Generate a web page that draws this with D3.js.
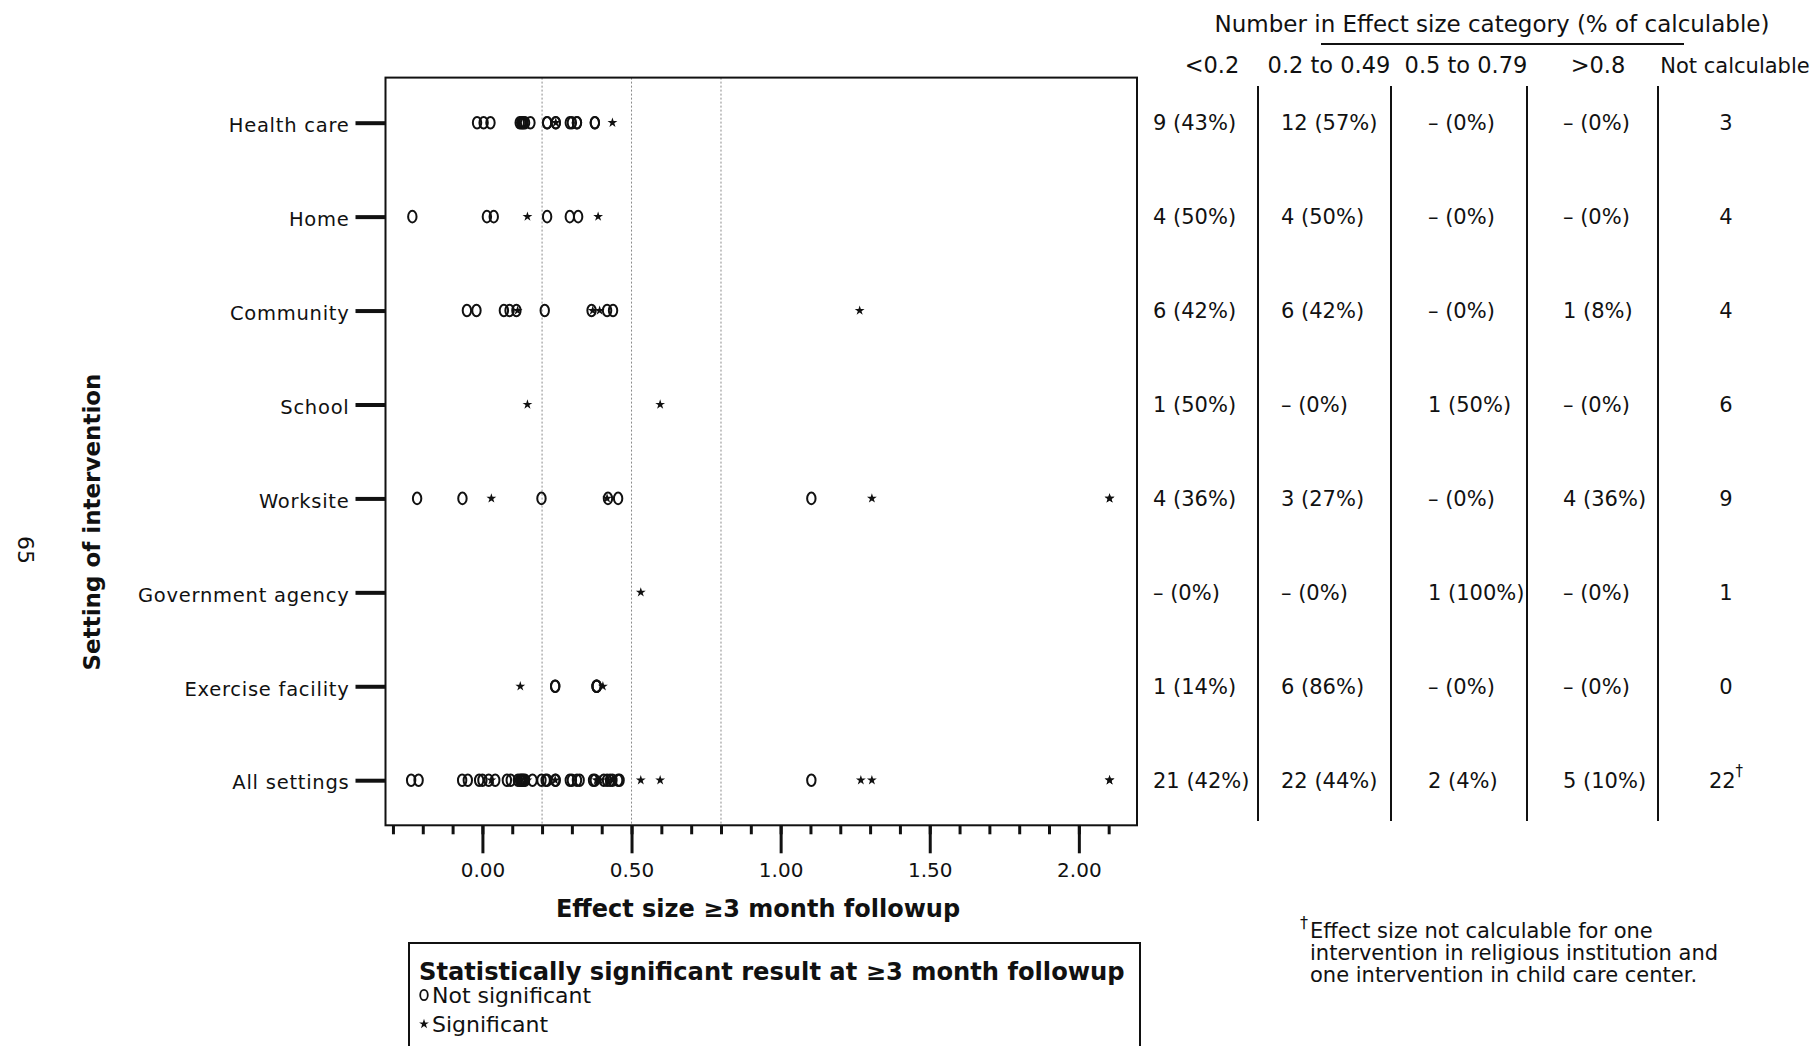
<!DOCTYPE html>
<html><head><meta charset="utf-8">
<script src="https://cdn.jsdelivr.net/npm/d3@7"></script>
<style>
html,body{margin:0;padding:0;background:#fff;}
svg{display:block;}
text{font-family:"DejaVu Sans",sans-serif;fill:#111;}
</style></head>
<body>
<svg id="chart" width="1815" height="1046"></svg>
<script>
// ---------------- DATA ----------------
const categories = ["Health care","Home","Community","School","Worksite","Government agency","Exercise facility","All settings"];

// effect sizes, not significant (o) and significant (*)
const healthCareNS = [-0.018,0.004,0.027,0.125,0.130,0.134,0.138,0.143,0.161,0.217,0.217,0.246,0.246,0.293,0.300,0.317,0.317,0.377,0.377];
const healthCareSig = [0.246,0.436];
const homeNS = [-0.235,0.015,0.038,0.217,0.293,0.321];
const homeSig = [0.151,0.388];
const communityNS = [-0.052,-0.020,0.072,0.091,0.114,0.209,0.366,0.418,0.438];
const communitySig = [0.118,0.370,0.393,1.265];
const schoolNS = [];
const schoolSig = [0.151,0.596];
const worksiteNS = [-0.219,-0.067,0.198,0.421,0.455,1.103];
const worksiteSig = [0.030,0.418,1.306,2.103,2.103];
const governmentNS = [];
const governmentSig = [0.531];
const exerciseNS = [0.244,0.244,0.383,0.383,0.383];
const exerciseSig = [0.127,0.404];
const allNS = [-0.239,-0.214,-0.068,-0.049,-0.011,0.000,0.021,0.043,0.082,0.095,0.119,0.126,0.130,0.134,0.138,0.143,0.168,0.198,0.212,0.217,0.244,0.246,0.293,0.300,0.317,0.326,0.371,0.377,0.407,0.418,0.428,0.436,0.455,0.460,1.103];
const allSig = [0.030,0.127,0.151,0.244,0.383,0.388,0.393,0.421,0.436,0.531,0.596,1.269,1.306,2.103,2.103];

const notSigByCategory = [healthCareNS,homeNS,communityNS,schoolNS,worksiteNS,governmentNS,exerciseNS,allNS];
const sigByCategory = [healthCareSig,homeSig,communitySig,schoolSig,worksiteSig,governmentSig,exerciseSig,allSig];

const xMajorTicks = [0,0.5,1.0,1.5,2.0];
const xMinorTicks = [-0.3,-0.2,-0.1,0,0.1,0.2,0.3,0.4,0.5,0.6,0.7,0.8,0.9,1.0,1.1,1.2,1.3,1.4,1.5,1.6,1.7,1.8,1.9,2.0,2.1];
const cutoffs = [0.2,0.5,0.8];

// table
const tableHeader = "Number in Effect size category (% of calculable)";
const tableColumns = ["<0.2","0.2 to 0.49","0.5 to 0.79",">0.8","Not calculable"];
const colLt02 = ["9 (43%)","4 (50%)","6 (42%)","1 (50%)","4 (36%)","– (0%)","1 (14%)","21 (42%)"];
const col02to049 = ["12 (57%)","4 (50%)","6 (42%)","– (0%)","3 (27%)","– (0%)","6 (86%)","22 (44%)"];
const col05to079 = ["– (0%)","– (0%)","– (0%)","1 (50%)","– (0%)","1 (100%)","– (0%)","2 (4%)"];
const colGt08 = ["– (0%)","– (0%)","1 (8%)","– (0%)","4 (36%)","– (0%)","– (0%)","5 (10%)"];
const colNotCalc = ["3","4","4","6","9","1","0","22"];
const footnoteLines = ["Effect size not calculable for one","intervention in religious institution and","one intervention in child care center."];

// ---------------- DRAW ----------------
const svg = d3.select("#chart");
const frame = {left:385.5, right:1137, top:77.6, bottom:825.3};

const x = d3.scaleLinear().domain([-0.325,2.195]).range([frame.left,frame.right]);
const y = d3.scalePoint().domain(categories).range([122.7,780.2]);

// cutoff reference lines
svg.append("g").selectAll("line").data(cutoffs).join("line")
  .attr("x1",d=>x(d)).attr("x2",d=>x(d))
  .attr("y1",frame.top).attr("y2",frame.bottom)
  .attr("stroke","#8a8a8a").attr("stroke-width",1).attr("stroke-dasharray","2,2");

// frame
svg.append("rect").attr("x",frame.left).attr("y",frame.top)
  .attr("width",frame.right-frame.left).attr("height",frame.bottom-frame.top)
  .attr("fill","none").attr("stroke","#111").attr("stroke-width",2);

// x axis minor
const gxMinor = svg.append("g").attr("transform",`translate(0,${frame.bottom})`)
  .call(d3.axisBottom(x).tickValues(xMinorTicks).tickSize(9).tickFormat(""));
gxMinor.select(".domain").remove();
gxMinor.selectAll(".tick line").attr("stroke","#111").attr("stroke-width",3);

// x axis major
const gxMajor = svg.append("g").attr("transform",`translate(0,${frame.bottom})`)
  .call(d3.axisBottom(x).tickValues(xMajorTicks).tickSize(28).tickPadding(10).tickFormat(d3.format(".2f")));
gxMajor.select(".domain").remove();
gxMajor.selectAll(".tick line").attr("stroke","#111").attr("stroke-width",3);
gxMajor.selectAll(".tick text").attr("font-size",20).attr("font-family","DejaVu Sans").attr("fill","#111");

// y axis
const gy = svg.append("g").attr("transform",`translate(${frame.left},0)`)
  .call(d3.axisLeft(y).tickSize(30).tickPadding(6));
gy.select(".domain").remove();
gy.selectAll(".tick line").attr("stroke","#111").attr("stroke-width",4);
gy.selectAll(".tick text").attr("font-size",19.5).attr("font-family","DejaVu Sans")
  .attr("letter-spacing","0.75px").attr("fill","#111").attr("dy","0.45em");

// axis titles
svg.append("text").attr("x",758).attr("y",917).attr("text-anchor","middle")
  .attr("font-size",24).attr("font-weight","bold").text("Effect size ≥3 month followup");
svg.append("text").attr("transform","translate(100,522) rotate(-90)").attr("text-anchor","middle")
  .attr("font-size",23).attr("font-weight","bold").text("Setting of intervention");

// page number
svg.append("text").attr("transform","translate(18,550) rotate(90)").attr("text-anchor","middle")
  .attr("font-family","Liberation Serif").attr("font-size",22).text("65");

// points
const nsPoints = [], sigPoints = [];
categories.forEach((c,i)=>{
  notSigByCategory[i].forEach(v=>nsPoints.push({c,v}));
  sigByCategory[i].forEach(v=>sigPoints.push({c,v}));
});
svg.append("g").selectAll("ellipse").data(nsPoints).join("ellipse")
  .attr("cx",d=>x(d.v)).attr("cy",d=>y(d.c))
  .attr("rx",4.2).attr("ry",5.8).attr("fill","none").attr("stroke","#111").attr("stroke-width",2);
const star = d3.symbol().type(d3.symbolStar).size(30);
svg.append("g").selectAll("path").data(sigPoints).join("path")
  .attr("transform",d=>`translate(${x(d.v)},${y(d.c)})`)
  .attr("d",star).attr("fill","#111");

// ---------------- TABLE ----------------
svg.append("text").attr("x",1492).attr("y",32).attr("text-anchor","middle")
  .attr("font-size",23).text(tableHeader);
svg.append("line").attr("x1",1321).attr("x2",1684).attr("y1",44).attr("y2",44)
  .attr("stroke","#111").attr("stroke-width",2);

const headerX = [1212,1329,1466,1598,1735];
const headerSize = [22.5,22.5,22.5,22.5,21];
svg.append("g").selectAll("text").data(tableColumns).join("text")
  .attr("x",(d,i)=>headerX[i]).attr("y",73).attr("text-anchor","middle")
  .attr("font-size",(d,i)=>headerSize[i]).text(d=>d);

const dividerX = [1258,1391,1527,1658];
svg.append("g").selectAll("line").data(dividerX).join("line")
  .attr("x1",d=>d).attr("x2",d=>d).attr("y1",86).attr("y2",821)
  .attr("stroke","#111").attr("stroke-width",2);

const colData = [colLt02,col02to049,col05to079,colGt08];
const colLeft = [1153,1281,1428,1563];
colData.forEach((col,j)=>{
  svg.append("g").selectAll("text").data(col).join("text")
    .attr("x",colLeft[j]).attr("y",(d,i)=>y(categories[i])+7.5)
    .attr("font-size",21).text(d=>d);
});
const ncText = svg.append("g").selectAll("text").data(colNotCalc).join("text")
  .attr("x",1726).attr("y",(d,i)=>y(categories[i])+7.5).attr("text-anchor","middle")
  .attr("font-size",21).text(d=>d);
ncText.filter((d,i)=>i===categories.length-1).append("tspan")
  .attr("dy",-12).attr("font-size",15).text("†");

// footnote
svg.append("text").attr("x",1300).attr("y",928).attr("font-size",16).text("†");
svg.append("g").selectAll("text").data(footnoteLines).join("text")
  .attr("x",1310).attr("y",(d,i)=>938+i*22).attr("font-size",21).text(d=>d);

// ---------------- LEGEND ----------------
svg.append("rect").attr("x",409).attr("y",943).attr("width",731).attr("height",120)
  .attr("fill","none").attr("stroke","#111").attr("stroke-width",2);
svg.append("text").attr("x",419).attr("y",980).attr("font-size",24.2).attr("font-weight","bold")
  .text("Statistically significant result at ≥3 month followup");
svg.append("ellipse").attr("cx",424).attr("cy",995).attr("rx",3.8).attr("ry",5.2)
  .attr("fill","none").attr("stroke","#111").attr("stroke-width",1.8);
svg.append("text").attr("x",432).attr("y",1003).attr("font-size",22).text("Not significant");
svg.append("path").attr("transform","translate(424,1024)").attr("d",star).attr("fill","#111");
svg.append("text").attr("x",432).attr("y",1032).attr("font-size",22).text("Significant");
</script>
</body></html>
